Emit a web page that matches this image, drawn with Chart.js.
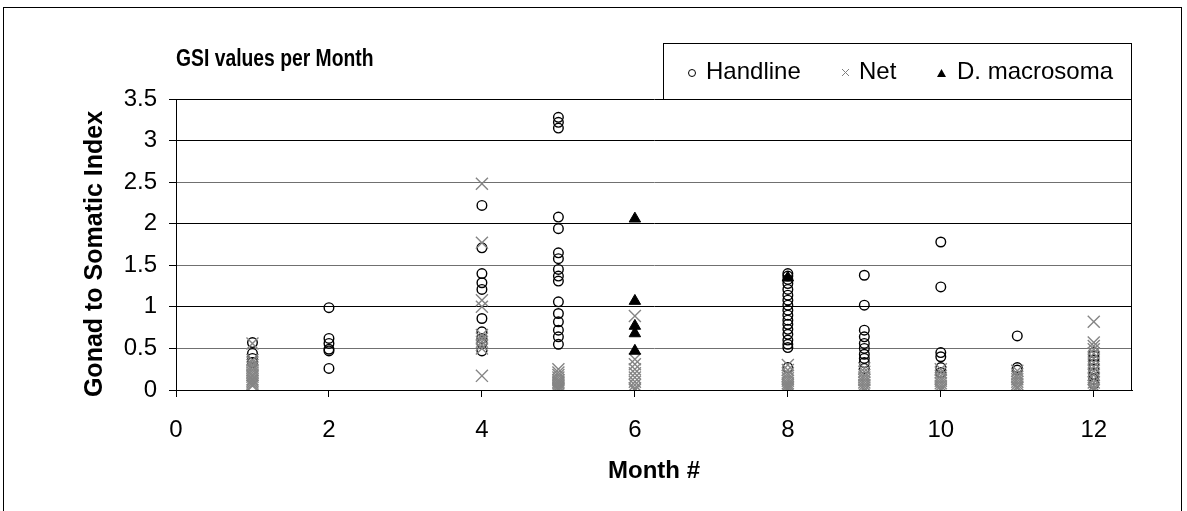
<!DOCTYPE html>
<html>
<head>
<meta charset="utf-8">
<title>GSI values per Month</title>
<script src="https://cdn.jsdelivr.net/npm/chart.js@4.4.1/dist/chart.umd.min.js"></script>
<style>
  html, body { margin: 0; padding: 0; background: #fff; }
  #wrap { width: 1187px; height: 511px; position: relative; }
</style>
</head>
<body>
<div id="wrap"><canvas id="gsi" width="1187" height="511"></canvas></div>
<script>
const FONT = '"Liberation Sans", Arial, Helvetica, sans-serif';

// Sampling months and the GSI readings taken in each one (same order as months)
const months = [1, 2, 4, 5, 6, 8, 9, 10, 11, 12];

const handlineGsi = [
  [0.57, 0.44, 0.38, 0.33],
  [0.99, 0.62, 0.56, 0.49, 0.47, 0.26],
  [2.22, 1.71, 1.40, 1.29, 1.21, 0.86, 0.70, 0.62, 0.56, 0.47],
  [3.28, 3.22, 3.15, 2.08, 1.94, 1.65, 1.58, 1.45, 1.37, 1.31, 1.06, 0.92, 0.82, 0.72, 0.64, 0.55],
  [],
  [1.40, 1.37, 1.33, 1.28, 1.21, 1.14, 1.08, 1.02, 0.96, 0.90, 0.84, 0.79, 0.73, 0.67, 0.60, 0.55, 0.51, 0.27],
  [1.38, 1.02, 0.72, 0.64, 0.56, 0.50, 0.43, 0.38, 0.33, 0.26],
  [1.78, 1.24, 0.45, 0.40, 0.27, 0.21],
  [0.65, 0.27, 0.24],
  [0.45, 0.41, 0.36, 0.31, 0.25, 0.19, 0.13, 0.07]
];

const netGsi = [
  [0.56, 0.36, 0.33, 0.30, 0.27, 0.24, 0.21, 0.18, 0.16, 0.13, 0.11, 0.09, 0.07, 0.05],
  [],
  [2.48, 1.77, 1.08, 1.00, 0.66, 0.62, 0.58, 0.54, 0.50, 0.17],
  [0.25, 0.21, 0.18, 0.15, 0.12, 0.10, 0.08, 0.06, 0.04, 0.02, 0.01, 0.00],
  [0.89, 0.37, 0.31, 0.25, 0.20, 0.15, 0.10, 0.06, 0.02, 0.00],
  [0.30, 0.24, 0.20, 0.17, 0.14, 0.11, 0.08, 0.06, 0.04, 0.02, 0.00],
  [0.26, 0.22, 0.18, 0.15, 0.12, 0.09, 0.06, 0.03, 0.00],
  [0.25, 0.21, 0.17, 0.14, 0.11, 0.08, 0.05, 0.02, 0.00],
  [0.23, 0.19, 0.16, 0.13, 0.10, 0.07, 0.04, 0.02],
  [0.82, 0.57, 0.53, 0.49, 0.44, 0.38, 0.33, 0.28, 0.23, 0.18, 0.13, 0.09, 0.05, 0.02, 0.00]
];

const macrosomaGsi = [
  [], [], [], [],
  [2.06, 1.07, 0.77, 0.68, 0.47],
  [1.35],
  [], [], [], []
];

const xTickValues = [0, 2, 4, 6, 8, 10, 12];
const yTickValues = [0, 0.5, 1, 1.5, 2, 2.5, 3, 3.5];

const chartTitle = 'GSI values per Month';
const yAxisTitle = 'Gonad to Somatic Index';
const xAxisTitle = 'Month #';

function toPoints(perMonth) {
  const pts = [];
  perMonth.forEach((vals, i) => vals.forEach(v => pts.push({ x: months[i], y: v })));
  return pts;
}

// Page frame, plot frame, titles and the boxed legend
const decorations = {
  id: 'decorations',
  beforeDraw(chart) {
    const ctx = chart.ctx;
    ctx.save();
    ctx.fillStyle = '#fff';
    ctx.fillRect(0, 0, chart.width, chart.height);
    ctx.restore();
  },
  afterDraw(chart) {
    const ctx = chart.ctx;
    const a = chart.chartArea;
    ctx.save();
    ctx.strokeStyle = '#000';
    ctx.lineWidth = 1;
    // outer frame
    ctx.strokeRect(3.5, 7.5, 1178, 520);
    // right edge of the plot
    ctx.beginPath();
    ctx.moveTo(Math.round(a.right) - 0.5, Math.round(a.top) + 0.5);
    ctx.lineTo(Math.round(a.right) - 0.5, Math.round(a.bottom) + 0.5);
    ctx.stroke();

    // chart title (slightly condensed bold face)
    ctx.save();
    ctx.fillStyle = '#000';
    ctx.font = 'bold 23px ' + FONT;
    ctx.textAlign = 'left';
    ctx.textBaseline = 'middle';
    ctx.translate(176, 60);
    ctx.scale(0.84, 1);
    ctx.fillText(chartTitle, 0, 0);
    ctx.restore();

    // vertical axis title
    ctx.save();
    ctx.fillStyle = '#000';
    ctx.font = 'bold 25px ' + FONT;
    ctx.textAlign = 'center';
    ctx.textBaseline = 'middle';
    ctx.translate(95, 254);
    ctx.rotate(-Math.PI / 2);
    ctx.fillText(yAxisTitle, 0, 0);
    ctx.restore();

    // legend box
    const lx = 663.5, ly = 43.5, lw = 468, lh = 56;
    ctx.fillStyle = '#fff';
    ctx.fillRect(lx, ly, lw, lh);
    ctx.strokeRect(lx, ly, lw, lh);

    const cy = 72;
    const ds = chart.data.datasets;
    ctx.font = '24px ' + FONT;
    ctx.textBaseline = 'middle';
    ctx.textAlign = 'left';
    ctx.fillStyle = '#000';

    // Handline marker
    ctx.beginPath();
    ctx.arc(692, cy + 1, 3.5, 0, Math.PI * 2);
    ctx.strokeStyle = '#000';
    ctx.lineWidth = 1;
    ctx.stroke();
    ctx.fillText(ds[0].label, 706, cy);

    // Net marker
    ctx.beginPath();
    ctx.strokeStyle = '#808080';
    ctx.moveTo(842, cy - 3); ctx.lineTo(849, cy + 4);
    ctx.moveTo(849, cy - 3); ctx.lineTo(842, cy + 4);
    ctx.stroke();
    ctx.fillText(ds[1].label, 859, cy);

    // D. macrosoma marker
    ctx.beginPath();
    ctx.fillStyle = '#000';
    ctx.moveTo(941.5, cy - 3); ctx.lineTo(946, cy + 5); ctx.lineTo(937, cy + 5);
    ctx.closePath();
    ctx.fill();
    ctx.fillText(ds[2].label, 957, cy);
    ctx.restore();
  }
};

// half-step grid lines render lighter
const gridColor = ctx => {
  const v = ctx.tick ? ctx.tick.value : 0;
  return (v === 0.5 || v === 1.5 || v === 2.5) ? '#707070' : '#000';
};

new Chart(document.getElementById('gsi'), {
  type: 'scatter',
  data: {
    datasets: [
      {
        label: 'Handline',
        data: toPoints(handlineGsi),
        pointStyle: 'circle',
        pointRadius: 4.8,
        borderWidth: 1.4,
        borderColor: '#000',
        backgroundColor: 'rgba(0,0,0,0)',
        order: 3
      },
      {
        label: 'Net',
        data: toPoints(netGsi),
        pointStyle: 'crossRot',
        pointRadius: 8.5,
        borderWidth: 1.4,
        borderColor: '#858585',
        backgroundColor: '#858585',
        order: 2
      },
      {
        label: 'D. macrosoma',
        data: toPoints(macrosomaGsi),
        pointStyle: 'triangle',
        pointRadius: 6.6,
        borderWidth: 1,
        borderColor: '#000',
        backgroundColor: '#000',
        order: 1
      }
    ]
  },
  options: {
    responsive: false,
    animation: false,
    events: [],
    devicePixelRatio: 1,
    layout: { padding: { left: 0, top: 99, right: 55, bottom: 0 } },
    plugins: {
      legend: { display: false },
      tooltip: { enabled: false },
      title: { display: false }
    },
    scales: {
      x: {
        type: 'linear',
        min: 0,
        max: 12.5,
        afterBuildTicks: s => { s.ticks = xTickValues.map(v => ({ value: v })); },
        afterFit: s => { s.height = 121; },
        ticks: {
          color: '#000',
          font: { family: FONT, size: 24 },
          padding: 19,
          maxRotation: 0,
          autoSkip: false,
          callback: v => String(v)
        },
        grid: {
          drawOnChartArea: false,
          drawTicks: true,
          tickLength: 7,
          tickColor: '#000'
        },
        border: { display: true, color: '#000', width: 1 },
        title: {
          display: true,
          text: xAxisTitle,
          color: '#000',
          font: { family: FONT, size: 24, weight: 'bold' },
          padding: { top: 0, bottom: 25 }
        }
      },
      y: {
        type: 'linear',
        min: 0,
        max: 3.5,
        afterBuildTicks: s => { s.ticks = yTickValues.map(v => ({ value: v })); },
        afterFit: s => { s.width = 176; },
        ticks: {
          color: '#000',
          font: { family: FONT, size: 24 },
          padding: 12,
          callback: v => String(v)
        },
        grid: {
          color: gridColor,
          lineWidth: 1,
          drawTicks: true,
          tickLength: 7,
          tickColor: '#000'
        },
        border: { display: true, color: '#000', width: 1 },
        title: { display: false }
      }
    }
  },
  plugins: [decorations]
});
</script>
</body>
</html>
